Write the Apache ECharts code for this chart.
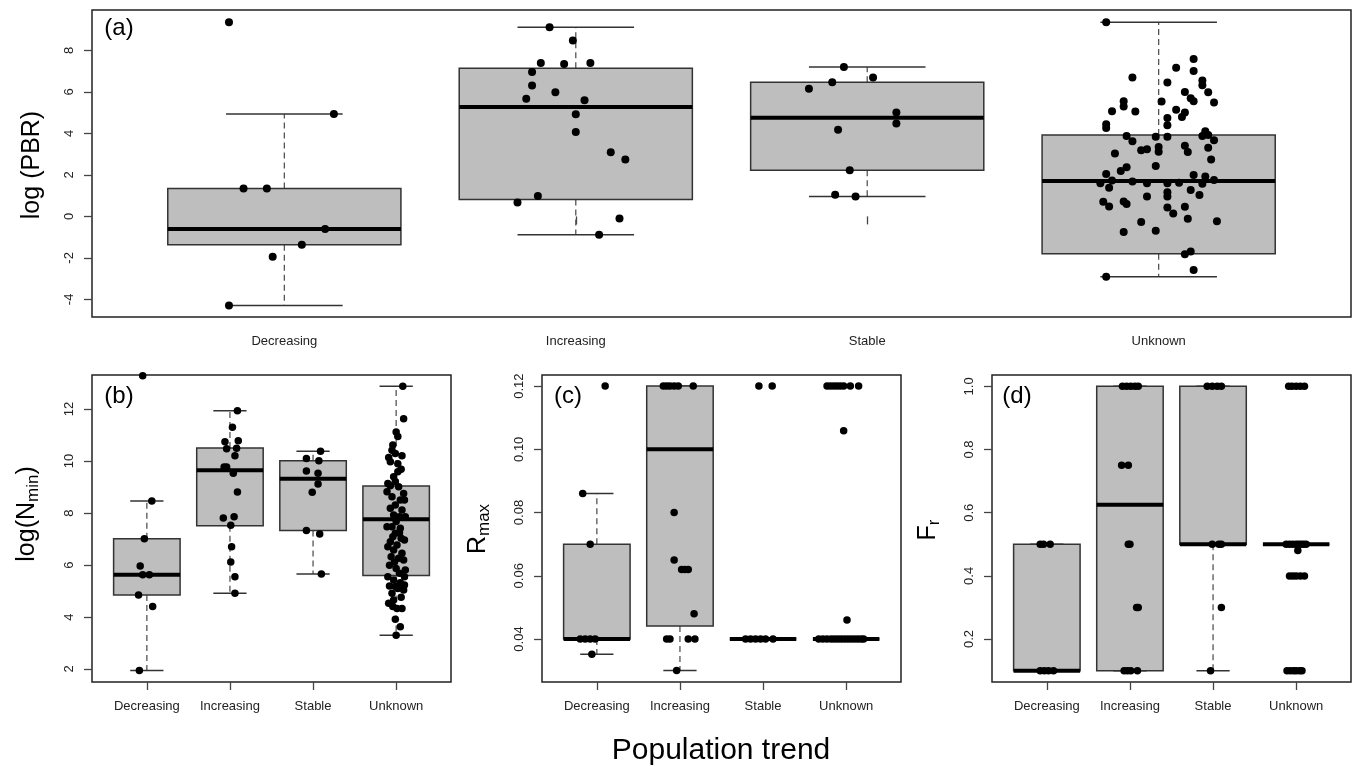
<!DOCTYPE html>
<html>
<head>
<meta charset="utf-8">
<script src="https://cdn.jsdelivr.net/npm/echarts@6/dist/echarts.min.js"></script>
<style>
html, body { margin: 0; background: #fff; }
#chart { width: 1354px; height: 766px; }
</style>
</head>
<body>
<div id="chart"></div>
<script>
var categories = ['Decreasing', 'Increasing', 'Stable', 'Unknown'];

// (a) log(PBR) -- box stats are [lower whisker, Q1, median, Q3, upper whisker]
var pbrTicks = [-4, -2, 0, 2, 4, 6, 8];
var pbrBox = [
  [-4.29, -1.37, -0.61, 1.34, 4.94],
  [-0.89, 0.82, 5.27, 7.14, 9.12],
  [0.96, 2.23, 4.75, 6.47, 7.20],
  [-2.91, -1.80, 1.71, 3.92, 9.36]
];
var pbrValues = [
  [9.36, 4.94, 1.34, 1.34, -0.61, -1.37, -1.95, -4.29],
  [9.12, 8.48, 7.39, 7.35, 7.39, 6.96, 6.31, 5.99, 5.67, 5.60, 4.92, 4.07, 3.09, 2.74, 0.98, 0.67, -0.10, -0.89],
  [7.20, 6.69, 6.47, 6.15, 5.01, 4.48, 4.18, 2.23, 1.04, 0.96],
  [9.36, 7.59, 7.17, 7.01, 6.69, 6.45, 6.55, 6.32, 6.00, 5.99, 5.70, 5.55, 5.49, 5.55, 5.30, 5.07, 5.06, 5.54, 5.14, 5.01,
   4.79, 4.74, 4.39, 4.44, 4.26, 4.11, 3.87, 3.92, 3.87, 3.62, 3.84, 3.84, 3.67, 3.19, 3.24, 3.35, 3.12, 3.41, 3.11, 3.31,
   3.03, 2.74, 2.43, 2.37, 2.19, 2.04, 1.99, 1.92, 1.60, 1.73, 1.68, 1.60, 1.60, 1.62, 1.57, 1.75, 1.38, 1.27, 1.17, 0.96,
   0.96, 1.03, 0.71, 0.48, 0.72, 0.60, 0.43, 0.47, 0.14, -0.11, -0.27, -0.24, -0.75, -0.69, -1.69, -1.82, -2.59, -2.91]
];
var pbrJitter = [
  [-0.19, 0.17, -0.14, -0.06, 0.14, 0.06, -0.04, -0.19],
  [-0.09, -0.01, -0.12, -0.04, 0.05, -0.15, -0.15, -0.07, -0.17, 0.03, 0.00, 0.00, 0.12, 0.17, -0.13, -0.20, 0.15, 0.08],
  [-0.08, 0.02, -0.12, -0.20, 0.10, 0.10, -0.10, -0.06, -0.11, -0.04],
  [-0.18, 0.12, 0.06, 0.12, -0.09, 0.03, 0.15, 0.15, 0.09, 0.17, 0.11, 0.12, 0.19, -0.12, -0.12, -0.16, -0.08, 0.01, 0.06, 0.09,
   0.08, 0.03, 0.03, -0.18, -0.18, 0.16, 0.15, 0.17, -0.11, -0.09, -0.01, 0.03, 0.19, -0.06, -0.04, 0.00, 0.00, 0.09, 0.10, 0.17,
   -0.15, 0.18, -0.01, -0.11, -0.13, -0.18, 0.12, 0.16, -0.20, -0.16, -0.09, -0.04, 0.03, 0.07, 0.15, 0.19, -0.17, 0.11, 0.03, 0.03,
   -0.04, 0.14, -0.19, -0.17, -0.12, -0.11, 0.03, 0.09, 0.05, 0.10, -0.06, 0.20, -0.12, -0.01, 0.11, 0.09, 0.12, -0.18]
];

// (b) log(Nmin)
var nminTicks = [2, 4, 6, 8, 10, 12];
var nminBox = [
  [1.94, 4.85, 5.63, 7.01, 8.46],
  [4.91, 7.51, 9.65, 10.50, 11.93],
  [5.65, 7.33, 9.32, 10.01, 10.38],
  [3.30, 5.60, 7.76, 9.04, 12.88]
];
var nminValues = [
  [13.28, 8.46, 7.01, 5.96, 5.63, 5.63, 4.85, 4.40, 1.94],
  [11.93, 11.30, 10.74, 10.78, 10.47, 10.49, 10.20, 9.77, 9.77, 9.53, 8.81, 7.81, 7.86, 7.53, 6.70, 6.12, 5.55, 4.91],
  [10.38, 10.10, 10.01, 9.62, 9.53, 9.12, 8.80, 7.33, 7.19, 5.65],
  [12.88, 11.63, 11.12, 10.94, 10.62, 10.29, 10.14, 10.20, 9.97, 9.90, 9.68, 9.40, 9.21, 9.05, 9.01, 8.75, 8.63, 8.50, 8.50, 8.31,
   8.18, 8.12, 7.92, 7.86, 7.67, 7.47, 7.41, 7.22, 7.03, 6.90, 6.77, 6.58, 6.45, 6.32, 6.26, 6.19, 5.99, 5.87, 5.68, 5.55,
   5.42, 5.32, 5.19, 5.10, 5.04, 4.91, 4.76, 4.53, 4.40, 4.33, 3.91, 3.63, 3.30, 9.14, 7.86, 7.47, 6.96, 6.70, 6.12, 5.81,
   5.55, 5.17, 5.23, 4.65, 4.33, 8.82, 9.59, 10.42, 7.24, 7.09]
];
var nminJitter = [
  [-0.05, 0.06, -0.03, -0.08, -0.05, 0.03, -0.10, 0.07, -0.09],
  [0.09, 0.03, -0.06, 0.10, -0.04, 0.08, 0.06, -0.07, -0.04, 0.04, 0.09, -0.08, 0.05, 0.01, 0.02, 0.01, 0.06, 0.06],
  [0.09, -0.08, 0.07, -0.08, 0.06, 0.06, -0.01, -0.08, 0.08, 0.10],
  [0.08, 0.09, 0.00, 0.02, -0.04, -0.01, -0.09, 0.07, -0.07, 0.02, 0.06, -0.03, -0.01, -0.07, 0.03, 0.09, -0.05, 0.05, 0.10, -0.01,
   -0.07, 0.07, -0.03, 0.04, 0.00, -0.05, 0.05, -0.01, 0.06, -0.07, 0.01, -0.03, 0.07, -0.06, 0.03, 0.09, -0.08, 0.00, 0.04, 0.10,
   -0.03, 0.05, -0.08, 0.02, 0.09, -0.05, 0.06, -0.09, -0.04, 0.01, -0.01, 0.05, 0.00, -0.10, 0.11, -0.11, 0.10, -0.10, -0.02, 0.11,
   -0.10, -0.01, 0.10, -0.03, 0.07, -0.11, 0.02, -0.05, 0.04, -0.04]
];

// (c) Rmax
var rmaxTicks = [0.04, 0.06, 0.08, 0.10, 0.12];
var rmaxBox = [
  [0.0352, 0.04, 0.04, 0.07, 0.086],
  [0.030, 0.0441, 0.100, 0.120, 0.120],
  [0.04, 0.04, 0.04, 0.04, 0.04],
  [0.04, 0.04, 0.04, 0.04, 0.04]
];
var rmaxValues = [
  [0.120, 0.086, 0.070, 0.04, 0.04, 0.04, 0.04, 0.0352],
  [0.12, 0.12, 0.12, 0.12, 0.12, 0.12, 0.080, 0.065, 0.062, 0.062, 0.062, 0.048, 0.04, 0.04, 0.04, 0.04, 0.030],
  [0.12, 0.12, 0.04, 0.04, 0.04, 0.04, 0.04, 0.04],
  [0.12, 0.12, 0.12, 0.12, 0.12, 0.12, 0.12, 0.12, 0.1059, 0.046,
   0.04, 0.04, 0.04, 0.04, 0.04, 0.04, 0.04, 0.04, 0.04, 0.04, 0.04, 0.04, 0.04, 0.04]
];
var rmaxJitter = [
  [0.10, -0.17, -0.08, -0.20, -0.14, -0.08, -0.02, -0.06],
  [-0.20, -0.16, -0.12, -0.07, -0.02, 0.16, -0.07, -0.07, 0.02, 0.06, 0.10, 0.17, -0.16, -0.12, 0.10, 0.18, -0.04],
  [-0.05, 0.11, -0.21, -0.15, -0.09, -0.03, 0.03, 0.12],
  [-0.23, -0.19, -0.15, -0.11, -0.07, -0.03, 0.05, 0.15, -0.03, 0.01,
   -0.33, -0.28, -0.23, -0.18, -0.14, -0.10, -0.06, -0.02, 0.02, 0.06, 0.10, 0.14, 0.18, 0.21]
];

// (d) Fr
var frTicks = [0.2, 0.4, 0.6, 0.8, 1.0];
var frBox = [
  [0.1, 0.1, 0.1, 0.5, 0.5],
  [0.1, 0.1, 0.625, 1.0, 1.0],
  [0.1, 0.5, 0.5, 1.0, 1.0],
  [0.5, 0.5, 0.5, 0.5, 0.5]
];
var frValues = [
  [0.5, 0.5, 0.5, 0.1, 0.1, 0.1, 0.1],
  [1, 1, 1, 1, 1, 0.75, 0.75, 0.5, 0.5, 0.3, 0.3, 0.1, 0.1, 0.1, 0.1],
  [1, 1, 1, 1, 0.5, 0.5, 0.5, 0.3, 0.1],
  [1, 1, 1, 1, 1, 0.5, 0.5, 0.5, 0.5, 0.5, 0.5, 0.5, 0.5, 0.48, 0.4, 0.4, 0.4, 0.4, 0.4, 0.1, 0.1, 0.1, 0.1, 0.1, 0.1]
];
var frJitter = [
  [-0.08, -0.04, 0.04, -0.08, -0.03, 0.02, 0.08],
  [-0.09, -0.04, 0.01, 0.06, 0.10, -0.10, -0.02, -0.02, 0.00, 0.08, 0.10, -0.07, -0.03, 0.01, 0.09],
  [-0.07, -0.01, 0.05, 0.10, -0.01, 0.07, 0.10, 0.10, -0.03],
  [-0.09, -0.05, 0.00, 0.05, 0.10, -0.12, -0.08, -0.04, 0.00, 0.03, 0.06, 0.09, 0.12, 0.02, -0.08, -0.04, 0.00, 0.05, 0.10,
   -0.11, -0.07, -0.03, 0.00, 0.04, 0.07]
];

var FONT = 'Liberation Sans';

var panels = [
  { box: pbrBox, values: pbrValues, jitter: pbrJitter, ticks: pbrTicks, min: -4.85, max: 9.95, digits: 0, dot: 8,
    grid: { left: 92, top: 10, width: 1259, height: 307 } },
  { box: nminBox, values: nminValues, jitter: nminJitter, ticks: nminTicks, min: 1.50, max: 13.31, digits: 0, dot: 7.5,
    grid: { left: 92, top: 375, width: 359, height: 307 } },
  { box: rmaxBox, values: rmaxValues, jitter: rmaxJitter, ticks: rmaxTicks, min: 0.0264, max: 0.1235, digits: 2, dot: 7.5,
    grid: { left: 542, top: 375, width: 359, height: 307 } },
  { box: frBox, values: frValues, jitter: frJitter, ticks: frTicks, min: 0.064, max: 1.036, digits: 1, dot: 7.5,
    grid: { left: 992, top: 375, width: 359, height: 307 } }
];

function renderBox(params, api) {
  var k = api.value(0);
  var lo = api.coord([k, api.value(1)])[1];
  var q1 = api.coord([k, api.value(2)])[1];
  var med = api.coord([k, api.value(3)])[1];
  var q3 = api.coord([k, api.value(4)])[1];
  var hi = api.coord([k, api.value(5)])[1];
  var x = api.coord([k, api.value(3)])[0];
  var w = api.size([0.8, 0])[0];
  var dash = { stroke: '#555', lineWidth: 1.3, lineDash: [6, 4] };
  var solid = { stroke: '#333', lineWidth: 1.5 };
  return {
    type: 'group',
    children: [
      { type: 'line', shape: { x1: x, y1: q3, x2: x, y2: hi }, style: dash },
      { type: 'line', shape: { x1: x, y1: q1, x2: x, y2: lo }, style: dash },
      { type: 'line', shape: { x1: x - w / 4, y1: hi, x2: x + w / 4, y2: hi }, style: solid },
      { type: 'line', shape: { x1: x - w / 4, y1: lo, x2: x + w / 4, y2: lo }, style: solid },
      { type: 'rect', shape: { x: x - w / 2, y: q3, width: w, height: q1 - q3 },
        style: { fill: '#bebebe', stroke: '#333', lineWidth: 1.5 } },
      { type: 'line', shape: { x1: x - w / 2, y1: med, x2: x + w / 2, y2: med }, style: { stroke: '#000', lineWidth: 4 } }
    ]
  };
}

var grids = [], xAxes = [], yAxes = [], series = [];
panels.forEach(function (p, i) {
  grids.push({ left: p.grid.left, top: p.grid.top, width: p.grid.width, height: p.grid.height,
    show: true, borderColor: '#222', borderWidth: 1.5, backgroundColor: 'transparent' });
  xAxes.push({
    type: 'value', gridIndex: i, min: 0.34, max: 4.66,
    splitLine: { show: false }, axisLine: { show: false },
    axisTick: { show: true, customValues: [1, 2, 3, 4], length: 8, lineStyle: { color: '#444', width: 1.3 } },
    axisLabel: { customValues: [1, 2, 3, 4], margin: 18, fontSize: 13, fontFamily: FONT, color: '#222',
      formatter: function (v) { return categories[Math.round(v) - 1]; } }
  });
  yAxes.push({
    type: 'value', gridIndex: i, min: p.min, max: p.max,
    splitLine: { show: false }, axisLine: { show: false },
    axisTick: { show: true, customValues: p.ticks, length: 8, lineStyle: { color: '#444', width: 1.3 } },
    axisLabel: { customValues: p.ticks, margin: 16, rotate: 90, fontSize: 13, fontFamily: FONT, color: '#222',
      formatter: function (v) { return v.toFixed(p.digits); } }
  });
  series.push({
    type: 'custom', xAxisIndex: i, yAxisIndex: i, renderItem: renderBox, silent: true,
    encode: { x: 0, y: [1, 2, 3, 4, 5] },
    data: p.box.map(function (b, g) { return [g + 1].concat(b); })
  });
  var pts = [];
  p.values.forEach(function (vals, g) {
    vals.forEach(function (v, j) { pts.push([g + 1 + p.jitter[g][j], v]); });
  });
  series.push({
    type: 'scatter', xAxisIndex: i, yAxisIndex: i, data: pts, symbolSize: p.dot,
    itemStyle: { color: '#000', opacity: 1 }, silent: true, clip: false, z: 5
  });
});

function txt(x, y, text, size, rot, rich) {
  return { type: 'text', x: x, y: y, rotation: rot || 0, z: 10,
    style: { text: text, fontSize: size, fontFamily: FONT, fill: '#000', align: 'center', verticalAlign: 'middle', rich: rich } };
}
var subRich = {
  m: { fontSize: 25, fontFamily: FONT, lineHeight: 30 },
  s: { fontSize: 17, fontFamily: FONT, lineHeight: 30, padding: [12, 0, 0, 0] }
};

var chart = echarts.init(document.getElementById('chart'), null, { renderer: 'canvas' });
chart.setOption({
  backgroundColor: '#fff',
  animation: false,
  grid: grids,
  xAxis: xAxes,
  yAxis: yAxes,
  series: series,
  graphic: [
    txt(119, 28, '(a)', 24),
    txt(119, 396, '(b)', 24),
    txt(568, 396, '(c)', 24),
    txt(1017, 396, '(d)', 24),
    txt(32, 165, 'log (PBR)', 25, Math.PI / 2),
    txt(27, 514, '{m|log(N}{s|min}{m|)}', 25, Math.PI / 2, subRich),
    txt(478, 529, '{m|R}{s|max}', 25, Math.PI / 2, subRich),
    txt(928, 530, '{m|F}{s|r}', 25, Math.PI / 2, subRich),
    txt(721, 751, 'Population trend', 30)
  ]
});
</script>
</body>
</html>
